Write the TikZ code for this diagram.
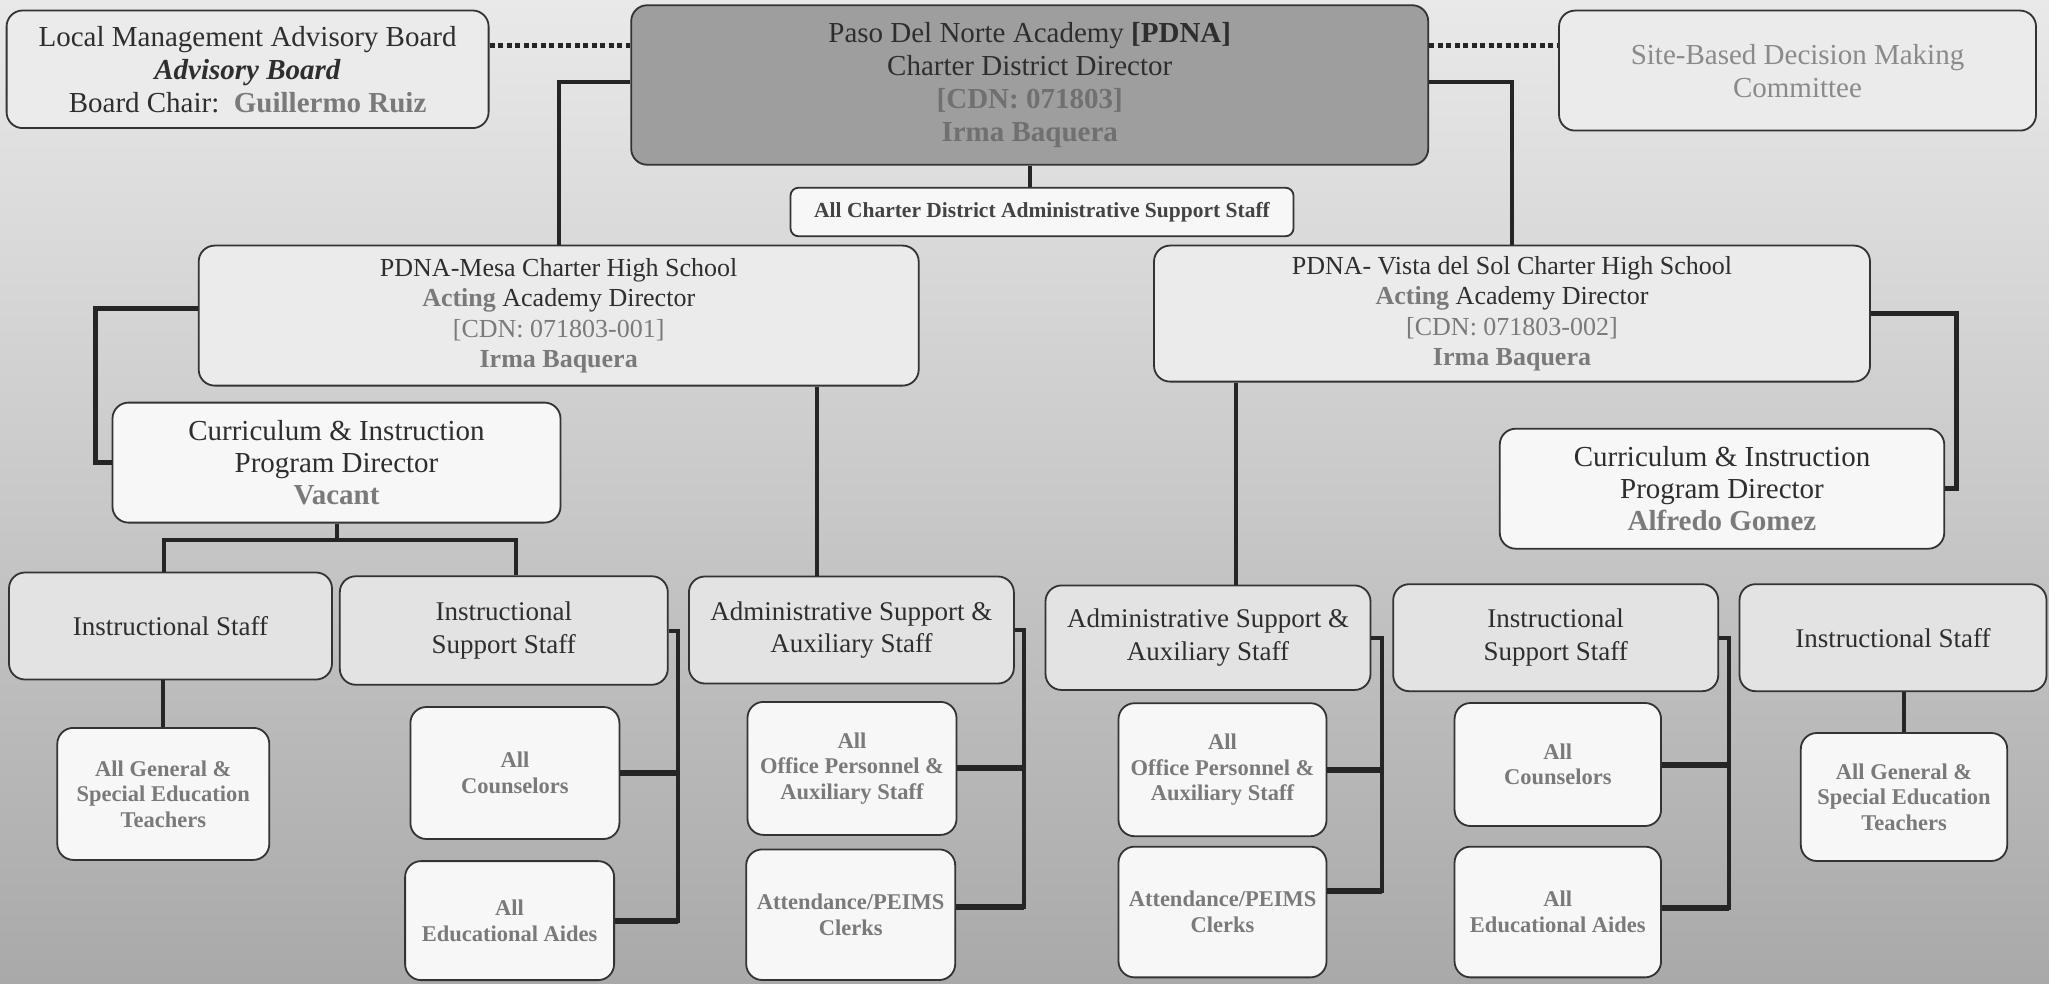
\documentclass[tikz,border=0pt]{standalone}
\usepackage{fontspec}
\setmainfont{Liberation Serif}
\definecolor{txt}{HTML}{2E2E2E}
\definecolor{gtxt}{HTML}{7A7A7A}
\definecolor{gtxtd}{HTML}{707070}
\definecolor{stxt}{HTML}{8A8A8A}
\definecolor{bord}{HTML}{333333}
\definecolor{bgtop}{HTML}{E9E9E9}
\definecolor{bgbot}{HTML}{A9A9A9}
\definecolor{fillA}{HTML}{EBEBEB}
\definecolor{fillB}{HTML}{E3E3E3}
\definecolor{fillW}{HTML}{F7F7F7}
\definecolor{fillP}{HTML}{9E9E9E}
\definecolor{lin}{HTML}{252525}
\begin{document}
\begin{tikzpicture}[x=1pt,y=-1pt,
  box/.style={draw=bord, line width=1.8pt, rounded corners=16pt, align=center, inner sep=0pt, text=txt},
  upper/.style={box, fill=fillA, font=\fontsize{29}{33}\selectfont},
  school/.style={box, fill=fillA, font=\fontsize{26}{30.5}\selectfont},
  cibox/.style={box, fill=fillW, font=\fontsize{29}{32}\selectfont},
  staff/.style={box, fill=fillB, font=\fontsize{27}{32.5}\selectfont},
  leaf/.style={box, fill=fillW, text=gtxt, font=\bfseries\fontsize{22.5}{25.5}\selectfont},
  conn/.style={draw=lin, line width=4pt},
  branch/.style={draw=lin, line width=6pt},
  dotline/.style={draw=lin, line width=5pt, dash pattern=on 5pt off 3.5pt}
]
\shade[top color=bgtop, bottom color=bgbot] (0,0) rectangle (2049,984);
\useasboundingbox (0,0) rectangle (2049,984);

% top row
\node[upper, minimum width=482pt, minimum height=117.6pt] (lmab) at (247.6,69.3)
  {Local Management Advisory Board\\ \textbf{\textit{Advisory Board}}\\ Board Chair:\ \ \textcolor{gtxt}{\textbf{Guillermo Ruiz}}};
\node[upper, fill=fillP, minimum width=797pt, minimum height=159.5pt] (pdna) at (1029.7,85)
  {Paso Del Norte Academy \textbf{[PDNA]}\\ Charter District Director\\ \textcolor{gtxtd}{\textbf{[CDN:\ 071803]}}\\ \textcolor{gtxtd}{\textbf{Irma Baquera}}};
\node[upper, text=stxt, minimum width=477pt, minimum height=120pt] (site) at (1797.5,70.6)
  {Site-Based Decision Making\\ Committee};
\node[box, fill=fillW, text=txt!90, font=\bfseries\fontsize{21.5}{25}\selectfont, rounded corners=8pt, minimum width=503pt, minimum height=48.5pt] (charter) at (1042,212)
  {All Charter District Administrative Support Staff};

% schools
\node[school, minimum width=720pt, minimum height=140pt] (mesa) at (558.7,315.6)
  {PDNA-Mesa Charter High School\\ \textcolor{gtxt}{\textbf{Acting}} Academy Director\\ \textcolor{gtxt}{[CDN: 071803-001]}\\ \textcolor{gtxt}{\textbf{Irma Baquera}}};
\node[school, minimum width=716pt, minimum height=136pt] (vista) at (1512,313.6)
  {PDNA- Vista del Sol Charter High School\\ \textcolor{gtxt}{\textbf{Acting}} Academy Director\\ \textcolor{gtxt}{[CDN: 071803-002]}\\ \textcolor{gtxt}{\textbf{Irma Baquera}}};

% curriculum directors
\node[cibox, minimum width=448pt, minimum height=120pt] (ci1) at (336.5,462.6)
  {Curriculum \& Instruction\\ Program Director\\ \textcolor{gtxt}{\textbf{Vacant}}};
\node[cibox, minimum width=444.5pt, minimum height=120pt] (ci2) at (1722,488.7)
  {Curriculum \& Instruction\\ Program Director\\ \textcolor{gtxt}{\textbf{Alfredo Gomez}}};

% staff row
\node[staff, minimum width=323pt, minimum height=107pt] (is1) at (170.5,626) {Instructional Staff};
\node[staff, minimum width=328pt, minimum height=108.5pt] (iss1) at (503.8,630.5) {Instructional\\ Support Staff};
\node[staff, minimum width=325pt, minimum height=107pt] (adm1) at (851.4,630) {Administrative Support \&\\ Auxiliary Staff};
\node[staff, minimum width=325pt, minimum height=104.5pt] (adm2) at (1208,637.7) {Administrative Support \&\\ Auxiliary Staff};
\node[staff, minimum width=325pt, minimum height=107pt] (iss2) at (1555.7,637.7) {Instructional\\ Support Staff};
\node[staff, minimum width=307pt, minimum height=107pt] (is2) at (1893,637.7) {Instructional Staff};

% leaves
\node[leaf, minimum width=212pt, minimum height=132pt] (t1) at (163.3,793.9) {All General \&\\ Special Education\\ Teachers};
\node[leaf, minimum width=209pt, minimum height=132pt] (couns1) at (514.9,773) {All\\ Counselors};
\node[leaf, minimum width=209pt, minimum height=119pt] (aides1) at (509.6,920.6) {All\\ Educational Aides};
\node[leaf, minimum width=209pt, minimum height=133pt] (off1) at (852,768.4) {All\\ Office Personnel \&\\ Auxiliary Staff};
\node[leaf, minimum width=209pt, minimum height=130.6pt] (att1) at (850.7,914.7) {Attendance/PEIMS\\ Clerks};
\node[leaf, minimum width=208pt, minimum height=133pt] (off2) at (1222.5,769.7) {All\\ Office Personnel \&\\ Auxiliary Staff};
\node[leaf, minimum width=208pt, minimum height=130.7pt] (att2) at (1222.5,912) {Attendance/PEIMS\\ Clerks};
\node[leaf, minimum width=206.5pt, minimum height=123pt] (couns2) at (1557.8,764.5) {All\\ Counselors};
\node[leaf, minimum width=206.5pt, minimum height=130.7pt] (aides2) at (1557.8,912) {All\\ Educational Aides};
\node[leaf, minimum width=206.4pt, minimum height=128pt] (t2) at (1904,797) {All General \&\\ Special Education\\ Teachers};

% dotted links
\draw[dotline] ([yshift=23.6pt]lmab.east) coordinate (d1) -- (d1 -| pdna.west);
\draw[dotline] ([yshift=39.3pt]pdna.east) coordinate (d2) -- (d2 -| site.west);

% connectors from top
\draw[conn] ([yshift=3pt]pdna.west) -| (mesa.north);
\draw[conn] ([yshift=3pt]pdna.east) -| (vista.north);
\draw[conn] (pdna.south) -- (pdna.south |- charter.north);

% Mesa
\draw[conn, line width=5pt] ([yshift=7pt]mesa.west) -- ++(-102,0) |- (ci1.west);
\draw[conn] (ci1.south) -- ++(0,16) coordinate (j1);
\draw[conn] (j1) -| ([xshift=-7pt]is1.north);
\draw[conn] (j1) -| ([xshift=12pt]iss1.north);
\draw[conn] ([xshift=-34.6pt]adm1.north) coordinate (a1) -- (a1 |- mesa.south);

% Vista
\draw[conn, line width=5pt] (vista.east) -- ++(86,0) |- (ci2.east);
\draw[conn] ([xshift=28pt]adm2.north) coordinate (a2) -- (a2 |- vista.south);

% leaves left
\draw[conn] (t1.north) -- (t1.north |- is1.south);
\draw[conn] (iss1.east) -- ++(9,0) coordinate (k1) |- (aides1.east);
\draw[branch] (couns1.east) -- (couns1.east -| k1);
\draw[branch] (aides1.east) -- (aides1.east -| k1);
\draw[conn] (adm1.east) -- ++(9,0) coordinate (k2) |- ([yshift=8pt]att1.east);
\draw[branch] (off1.east) -- (off1.east -| k2);
\draw[branch] ([yshift=8pt]att1.east) -- ([yshift=8pt]att1.east -| k2);

% leaves right
\draw[conn] (adm2.east) -- ++(10.5,0) coordinate (k3) |- ([yshift=21pt]att2.east);
\draw[branch] (off2.east) -- (off2.east -| k3);
\draw[branch] ([yshift=21pt]att2.east) -- ([yshift=21pt]att2.east -| k3);
\draw[conn] (iss2.east) -- ++(10,0) coordinate (k4) |- ([yshift=4pt]aides2.east);
\draw[branch] (couns2.east) -- (couns2.east -| k4);
\draw[branch] ([yshift=4pt]aides2.east) -- ([yshift=4pt]aides2.east -| k4);
\draw[conn] (t2.north) -- (t2.north |- is2.south);
\end{tikzpicture}
\end{document}
